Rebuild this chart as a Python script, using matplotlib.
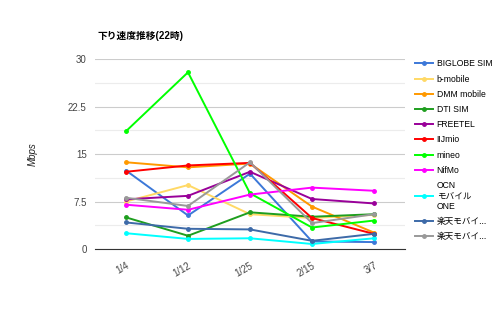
import matplotlib.pyplot as plt
from matplotlib.ticker import MultipleLocator

plt.rcParams['font.family'] = ['Liberation Sans', 'Noto Sans CJK JP', 'DejaVu Sans']

dates = ["1/4", "1/12", "1/25", "2/15", "3/7"]

biglobe = [12.4, 5.3, 11.9, 1.2, 1.1]
bmobile = [7.5, 10.1, 5.5, 4.9, 5.4]
dmm = [13.7, 12.9, 13.5, 6.7, 2.6]
dti = [5.0, 2.1, 5.8, 5.1, 5.5]
freetel = [7.85, 8.4, 12.2, 7.9, 7.2]
iijmio = [12.2, 13.2, 13.6, 4.9, 2.4]
mineo = [18.6, 27.9, 8.8, 3.4, 4.5]
nifmo = [7.0, 6.2, 8.6, 9.7, 9.2]
ocn = [2.5, 1.6, 1.7, 0.8, 1.7]
rakuten1 = [4.2, 3.2, 3.1, 1.3, 2.4]
rakuten2 = [8.1, 6.8, 13.7, 4.1, 5.5]

series = [
    ("BIGLOBE SIM", biglobe, "#3c78d8"),
    ("b-mobile", bmobile, "#ffd966"),
    ("DMM mobile", dmm, "#ff9900"),
    ("DTI SIM", dti, "#1e9e1e"),
    ("FREETEL", freetel, "#990099"),
    ("IIJmio", iijmio, "#ff0000"),
    ("mineo", mineo, "#00ff00"),
    ("NifMo", nifmo, "#ff00ff"),
    ("OCN\nモバイル\nONE", ocn, "#00ffff"),
    ("楽天モバイ...", rakuten1, "#3d6aa8"),
    ("楽天モバイ...", rakuten2, "#999999"),
]

fig = plt.figure(figsize=(5, 3.09), dpi=100)
ax = fig.add_axes([0.19, 0.194, 0.62, 0.615])

x = range(len(dates))
for name, vals, col in series:
    ax.plot(x, vals, color=col, lw=1.4, marker="o", ms=2.5, label=name)

ax.set_xlim(-0.5, len(dates) - 0.5)
ax.set_ylim(0, 30)
ax.yaxis.set_minor_locator(MultipleLocator(3.75))
ax.set_yticks([0, 7.5, 15, 22.5, 30])
ax.set_yticklabels(["0", "7.5", "15", "22.5", "30"])
ax.grid(axis="y", which="major", color="#cccccc", lw=0.8)
ax.grid(axis="y", which="minor", color="#ececec", lw=0.8)
ax.set_axisbelow(True)
for s in ["top", "right", "left"]:
    ax.spines[s].set_visible(False)
ax.spines["bottom"].set_color("#333333")
ax.tick_params(axis="both", which="both", length=0, labelsize=7, colors="#444444")
ax.tick_params(axis="y", pad=6)

ax.set_xticks(list(x))
ax.set_xticklabels(dates, rotation=30, ha="right", rotation_mode="anchor")
ax.tick_params(axis="x", pad=8)

ax.set_ylabel("Mbps", fontsize=7, style="italic", color="#222222")
ax.yaxis.set_label_coords(-0.185, 0.5)

fig.text(0.194, 0.875, "下り速度推移(22時)", fontsize=7, fontweight="bold", color="#000000")

ax.legend(loc="upper left", bbox_to_anchor=(1.012, 1.03), frameon=False,
          fontsize=6.2, handlelength=2.1, handletextpad=0.45, labelspacing=0.72,
          borderaxespad=0.3)

fig.savefig("out.png", dpi=100, facecolor="white")
